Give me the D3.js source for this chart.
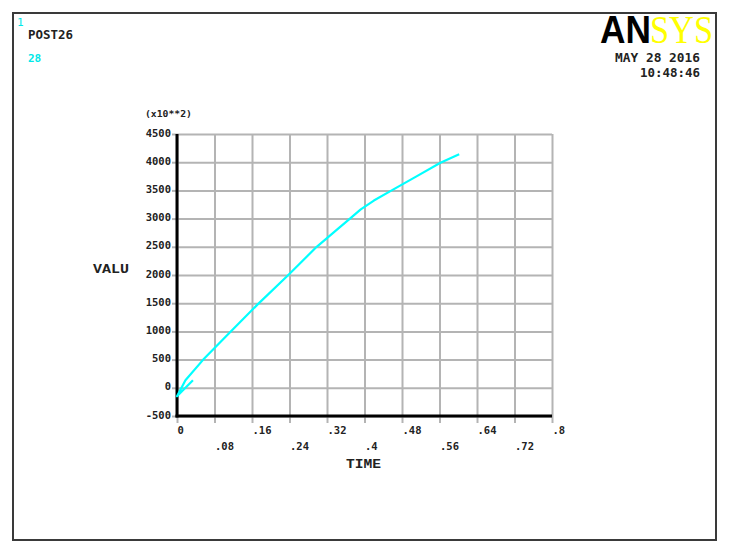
<!DOCTYPE html>
<html lang="en">
<head>
    <meta charset="UTF-8">
    <title>POST26 VALU vs TIME</title>
    <script src="https://cdn.jsdelivr.net/npm/d3@7"></script>
    <style>
        body{ margin:0; background:#fff; }
        svg{ display:block; }
    </style>
</head>
<body>
</body>
<script type="text/javascript">

    // curve (VALU in x10**2)
    let times  = [0.034, 0, 0.018, 0.056, 0.11, 0.171, 0.2375, 0.298, 0.345, 0.369, 0.392, 0.42, 0.458, 0.51, 0.562, 0.602];
    let values = [135, -150, 133, 500, 960, 1470, 2000, 2500, 2830, 3000, 3165, 3320, 3500, 3745, 3990, 4140];

    let xTicks = [0, 0.08, 0.16, 0.24, 0.32, 0.4, 0.48, 0.56, 0.64, 0.72, 0.8];
    let xTickLabels = ["0", ".08", ".16", ".24", ".32", ".4", ".48", ".56", ".64", ".72", ".8"];
    let yTicks = [-500, 0, 500, 1000, 1500, 2000, 2500, 3000, 3500, 4000, 4500];
    let yTickLabels = ["-500", "0", "500", "1000", "1500", "2000", "2500", "3000", "3500", "4000", "4500"];

    let width = 738;
    let height = 553;
    let mono = "'DejaVu Sans Mono', monospace";

    let svg = d3.select("body")
        .append("svg")
        .attr("width", width)
        .attr("height", height);

    // outer frame
    svg.append("rect")
        .attr("x", 13).attr("y", 13)
        .attr("width", 703).attr("height", 527)
        .attr("fill", "none")
        .attr("stroke", "#3a3a3a")
        .attr("stroke-width", 2);

    let x = d3.scaleLinear().domain([0, 0.8]).range([177, 552]);
    let y = d3.scaleLinear().domain([-500, 4500]).range([416, 134]);

    // grid
    let xGrid = d3.axisBottom(x).tickValues(xTicks).tickSize(-(416 - 134)).tickFormat("");
    let xGridGroup = svg.append("g").attr("transform", "translate(0,416)");
    xGrid(xGridGroup);
    let yGrid = d3.axisLeft(y).tickValues(yTicks).tickSize(-(552 - 177)).tickFormat("");
    let yGridGroup = svg.append("g").attr("transform", "translate(177,0)");
    yGrid(yGridGroup);
    svg.selectAll("g").selectAll(".domain").remove();
    svg.selectAll("g .tick line")
        .attr("stroke", "#b4b4b4")
        .attr("stroke-width", 2);

    // axes with ticks and labels
    let xAxis = d3.axisBottom(x).tickValues(xTicks).tickSize(7).tickPadding(0)
        .tickFormat((d, i) => xTickLabels[i]);
    let xAxisGroup = svg.append("g").attr("class", "xAxisGroup").attr("transform", "translate(0,416)");
    xAxis(xAxisGroup);
    xAxisGroup.selectAll(".tick line").attr("stroke", "#b4b4b4").attr("stroke-width", 2);
    xAxisGroup.selectAll(".tick text")
        .attr("text-anchor", "start")
        .attr("x", 0)
        .attr("y", (d, i) => i % 2 === 0 ? 18 : 34)
        .attr("dy", 0);

    let yAxis = d3.axisLeft(y).tickValues(yTicks).tickSize(5).tickPadding(1)
        .tickFormat((d, i) => yTickLabels[i]);
    let yAxisGroup = svg.append("g").attr("class", "yAxisGroup").attr("transform", "translate(177,0)");
    yAxis(yAxisGroup);
    yAxisGroup.selectAll(".tick line").attr("stroke", "#b4b4b4").attr("stroke-width", 2);
    yAxisGroup.selectAll(".tick text").attr("dy", "0.2em");

    svg.selectAll(".xAxisGroup .domain, .yAxisGroup .domain").remove();
    svg.selectAll(".tick text")
        .attr("font-family", mono)
        .attr("font-weight", "bold")
        .attr("font-size", 10.5)
        .attr("fill", "#222");

    // thick axis lines
    svg.append("line")
        .attr("x1", x(0)).attr("x2", x(0))
        .attr("y1", y(4500)).attr("y2", y(-500) + 1.5)
        .attr("stroke", "#000").attr("stroke-width", 3);
    svg.append("line")
        .attr("x1", x(0) - 1.5).attr("x2", x(0.8))
        .attr("y1", y(-500)).attr("y2", y(-500))
        .attr("stroke", "#000").attr("stroke-width", 3);

    // curve
    let pts = times.map((t, i) => [t, values[i]]);
    let line = d3.line()
        .x(d => x(d[0]))
        .y(d => y(d[1]));
    svg.append("path")
        .datum(pts)
        .attr("fill", "none")
        .attr("stroke", "#00ffff")
        .attr("stroke-width", 2.2)
        .attr("stroke-linejoin", "round")
        .attr("d", line);

    // labels
    let label = (tx, ty, s, opts) => {
        let o = Object.assign({size: 10.5, color: "#222", anchor: "start", weight: "bold", family: mono}, opts || {});
        let t = svg.append("text")
            .attr("x", tx).attr("y", ty)
            .attr("font-family", o.family)
            .attr("font-size", o.size)
            .attr("font-weight", o.weight)
            .attr("fill", o.color)
            .attr("text-anchor", o.anchor)
            .text(s);
        if (o.len) t.attr("textLength", o.len).attr("lengthAdjust", "spacingAndGlyphs");
        return t;
    };

    label(145, 117, "(x10**2)", {size: 9.5, len: 47});
    label(93, 273, "VALU", {size: 13, family: "'Liberation Mono', monospace", len: 36});
    label(346, 468, "TIME", {size: 13, family: "'Liberation Mono', monospace", len: 35});

    label(17, 26, "1", {color: "#00e8e8", size: 11, weight: "normal"});
    label(28, 39, "POST26", {len: 45, size: 11.5});
    label(28, 62, "28", {color: "#00e8e8", size: 11});
    label(700, 62, "MAY 28 2016", {anchor: "end", len: 85, size: 11.5});
    label(700, 77, "10:48:46", {anchor: "end", len: 60, size: 11.5});

    // ANSYS logo
    label(600, 43, "AN", {family: "'Liberation Sans', Arial, sans-serif", size: 38, weight: "900", color: "#000", len: 51});
    label(650, 43, "SYS", {family: "'Liberation Serif', serif", size: 40, weight: "normal", color: "#ffff00", len: 63});
</script>
</html>
